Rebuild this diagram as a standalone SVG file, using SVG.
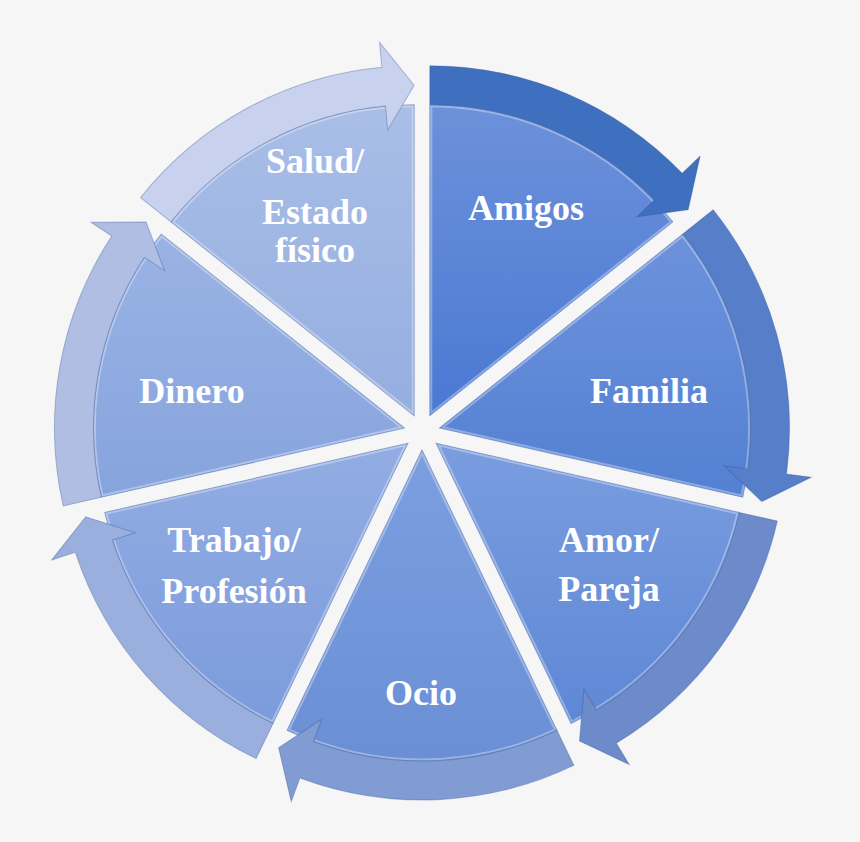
<svg xmlns="http://www.w3.org/2000/svg" xmlns:xlink="http://www.w3.org/1999/xlink" width="860" height="842" viewBox="0 0 860 842">
<style>
.lbl{font-family:"Liberation Serif","Times New Roman",serif;font-weight:bold;font-size:36px;fill:#ffffff;text-anchor:middle}
.edge{fill:none;stroke:#3a5ca6;stroke-opacity:0.45;stroke-width:1}
.hl{fill:none;stroke:#ffffff;stroke-opacity:0.32;stroke-width:5}
.arr{stroke:#2f4f8f;stroke-opacity:0.35;stroke-width:1;stroke-linejoin:miter}
</style>
<defs>
<path id="wedgeShape" d="M429.81,415.78 L429.81,104.78 A311,311 0 0 1 672.96,221.87 Z"/>
<path id="arrowShape" d="M429.81,104.78 L429.81,65.78 A350,350 0 0 1 682.13,173.21 L700.15,155.89 L688.20,209.72 L636.71,216.87 L654.01,200.24 A311,311 0 0 0 429.81,104.78 Z"/>
<clipPath id="wclip"><use xlink:href="#wedgeShape" href="#wedgeShape"/></clipPath>
<linearGradient id="g0" gradientUnits="userSpaceOnUse" x1="0" y1="105" x2="0" y2="416"><stop offset="0" stop-color="#6d91da"/><stop offset="1" stop-color="#4a79d3"/></linearGradient>
<linearGradient id="g1" gradientUnits="userSpaceOnUse" x1="0" y1="215" x2="0" y2="505" gradientTransform="rotate(-51.428571 422 432)"><stop offset="0" stop-color="#6e93dc"/><stop offset="1" stop-color="#5380d2"/></linearGradient>
<linearGradient id="g2" gradientUnits="userSpaceOnUse" x1="0" y1="443" x2="0" y2="740" gradientTransform="rotate(-102.857143 422 432)"><stop offset="0" stop-color="#7a9ddf"/><stop offset="1" stop-color="#5c86d5"/></linearGradient>
<linearGradient id="g3" gradientUnits="userSpaceOnUse" x1="0" y1="450" x2="0" y2="762" gradientTransform="rotate(-154.285714 422 432)"><stop offset="0" stop-color="#7b9fdf"/><stop offset="1" stop-color="#6a8fd5"/></linearGradient>
<linearGradient id="g4" gradientUnits="userSpaceOnUse" x1="0" y1="443" x2="0" y2="740" gradientTransform="rotate(-205.714286 422 432)"><stop offset="0" stop-color="#92ade3"/><stop offset="1" stop-color="#7a9adb"/></linearGradient>
<linearGradient id="g5" gradientUnits="userSpaceOnUse" x1="0" y1="215" x2="0" y2="505" gradientTransform="rotate(-257.142857 422 432)"><stop offset="0" stop-color="#9bb4e5"/><stop offset="1" stop-color="#86a3dd"/></linearGradient>
<linearGradient id="g6" gradientUnits="userSpaceOnUse" x1="0" y1="105" x2="0" y2="416" gradientTransform="rotate(-308.571429 422 432)"><stop offset="0" stop-color="#a9bee7"/><stop offset="1" stop-color="#95aee0"/></linearGradient>
</defs>
<rect width="860" height="842" fill="#f6f6f6"/>

<g id="amigos">
<g transform="rotate(0 422 432)"><use href="#wedgeShape" xlink:href="#wedgeShape" fill="url(#g0)"/><use href="#wedgeShape" xlink:href="#wedgeShape" class="hl" clip-path="url(#wclip)"/><use href="#wedgeShape" xlink:href="#wedgeShape" class="edge"/></g>
<text class="lbl" x="526" y="220">Amigos</text>
</g>
<g id="familia">
<g transform="rotate(51.428571 422 432)"><use href="#wedgeShape" xlink:href="#wedgeShape" fill="url(#g1)"/><use href="#wedgeShape" xlink:href="#wedgeShape" class="hl" clip-path="url(#wclip)"/><use href="#wedgeShape" xlink:href="#wedgeShape" class="edge"/></g>
<text class="lbl" x="649" y="403">Familia</text>
</g>
<g id="amor">
<g transform="rotate(102.857143 422 432)"><use href="#wedgeShape" xlink:href="#wedgeShape" fill="url(#g2)"/><use href="#wedgeShape" xlink:href="#wedgeShape" class="hl" clip-path="url(#wclip)"/><use href="#wedgeShape" xlink:href="#wedgeShape" class="edge"/></g>
<text class="lbl" x="609" y="552">Amor/</text>
<text class="lbl" x="609" y="601">Pareja</text>
</g>
<g id="ocio">
<g transform="rotate(154.285714 422 432)"><use href="#wedgeShape" xlink:href="#wedgeShape" fill="url(#g3)"/><use href="#wedgeShape" xlink:href="#wedgeShape" class="hl" clip-path="url(#wclip)"/><use href="#wedgeShape" xlink:href="#wedgeShape" class="edge"/></g>
<text class="lbl" x="421" y="705">Ocio</text>
</g>
<g id="trabajo">
<g transform="rotate(205.714286 422 432)"><use href="#wedgeShape" xlink:href="#wedgeShape" fill="url(#g4)"/><use href="#wedgeShape" xlink:href="#wedgeShape" class="hl" clip-path="url(#wclip)"/><use href="#wedgeShape" xlink:href="#wedgeShape" class="edge"/></g>
<text class="lbl" x="234" y="552">Trabajo/</text>
<text class="lbl" x="234" y="603">Profesión</text>
</g>
<g id="dinero">
<g transform="rotate(257.142857 422 432)"><use href="#wedgeShape" xlink:href="#wedgeShape" fill="url(#g5)"/><use href="#wedgeShape" xlink:href="#wedgeShape" class="hl" clip-path="url(#wclip)"/><use href="#wedgeShape" xlink:href="#wedgeShape" class="edge"/></g>
<text class="lbl" x="192" y="403">Dinero</text>
</g>
<g id="salud">
<g transform="rotate(308.571429 422 432)"><use href="#wedgeShape" xlink:href="#wedgeShape" fill="url(#g6)"/><use href="#wedgeShape" xlink:href="#wedgeShape" class="hl" clip-path="url(#wclip)"/><use href="#wedgeShape" xlink:href="#wedgeShape" class="edge"/></g>
<text class="lbl" x="315" y="173">Salud/</text>
<text class="lbl" x="315" y="224">Estado</text>
<text class="lbl" x="315" y="262">físico</text>
</g>

<g id="connectors">
<use href="#arrowShape" xlink:href="#arrowShape" class="arr" fill="#3f6fbf" transform="rotate(0 422 432)"/>
<use href="#arrowShape" xlink:href="#arrowShape" class="arr" fill="#577fc9" transform="rotate(51.428571 422 432)"/>
<use href="#arrowShape" xlink:href="#arrowShape" class="arr" fill="#6d8acb" transform="rotate(102.857143 422 432)"/>
<use href="#arrowShape" xlink:href="#arrowShape" class="arr" fill="#819cd3" transform="rotate(154.285714 422 432)"/>
<use href="#arrowShape" xlink:href="#arrowShape" class="arr" fill="#9aafde" transform="rotate(205.714286 422 432)"/>
<use href="#arrowShape" xlink:href="#arrowShape" class="arr" fill="#b1bee4" transform="rotate(257.142857 422 432)"/>
<use href="#arrowShape" xlink:href="#arrowShape" class="arr" fill="#c8d2ee" transform="rotate(308.571429 422 432)"/>
</g>
</svg>
